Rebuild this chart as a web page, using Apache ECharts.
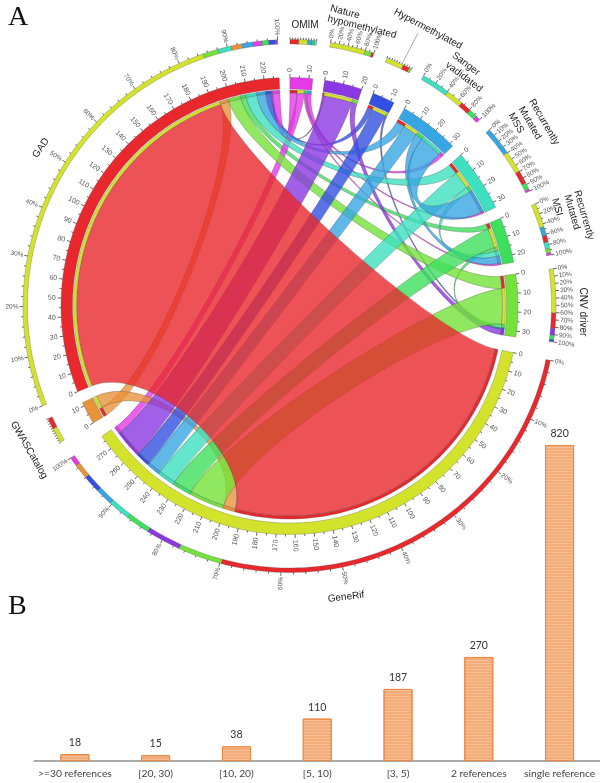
<!DOCTYPE html>
<html><head><meta charset="utf-8">
<style>html,body{margin:0;padding:0;background:#fff}#c{width:600px;height:783px}</style>
<script src="https://cdn.jsdelivr.net/npm/echarts@6/dist/echarts.min.js"></script>
</head><body><div id="c"></div>
<script>
// sector order by link rank
const sectorNames = ['GAD','GeneRif','GWASCatalog','CNV driver','Recurrently Mutated MSI','Recurrently Mutated MSS','Sanger vadidated','Hypermethylated','Nature hypomethylated','OMIM'];
const sectorColors = ['#e8282c','#d3e32c','#e8933a','#74e23a','#3de05c','#3de0bf','#37a6e2','#3350e2','#8b37e2','#e63ae8'];
// overlap counts with every sector, in rank order
const linksGAD     = [0,194,5,7,3,6,5,3,1,4];
const linksGeneRif = [194,0,7,20,11,10,8,8,16,4];
const linksGWAS    = [5,7,0,0,0,0,0,0,0,0];
const linksCNV     = [7,20,0,0,2,0,0,1,3,0];
const linksMSI     = [3,11,0,2,0,3,4,0,0,1];
const linksMSS     = [6,10,0,0,3,0,13,0,0,1];
const linksSanger  = [5,8,0,0,4,13,0,0,0,2];
const linksHyper   = [3,8,0,1,0,0,0,0,0,0];
const linksNature  = [1,16,0,3,0,0,0,0,0,0];
const linksOMIM    = [4,4,0,0,1,1,2,0,0,0];
// drawing order, clockwise from the top
const clockwiseOrder = [9,8,7,6,5,4,3,1,2,0];
const gapAfter = [3,3,3,3,3,3,4,4,3,0];
const ringTickStep = [10,10,10,10,10,10,10,2,10,2];
const ringLabelStep = [0,20,0,20,10,20,10,10,0,10];
// bar chart
const barCategories = ['>=30 references','[20, 30)','[10, 20)','[5, 10)','[3, 5)','2 references','single reference'];
const barValues = [18,15,38,110,187,270,820];

const matrix = [linksGAD,linksGeneRif,linksGWAS,linksCNV,linksMSI,linksMSS,linksSanger,linksHyper,linksNature,linksOMIM];
const DEG = 0.48, START = 0.1, PULL = 0.72;
const R = {rib:213, stripT:3, bandI:217, bandO:228.5, ringI:262, ringO:266.5};
const ribInset = [0,3,0,0,0,0,0,0,0,0]; // GeneRif's links stand a little further from its band
const sum = a => a.reduce((x,y)=>x+y,0);

// layout in degrees
const sectorAngle = {};
let cur = START;
clockwiseOrder.forEach((s,i)=>{ const size = sum(matrix[s]); sectorAngle[s]={a0:cur,a1:cur+size*DEG,size}; cur += size*DEG + gapAfter[i]; });
const slot = {};
matrix.forEach((row,s)=>{ let p = sectorAngle[s].a0; row.forEach((v,t)=>{ if(v){ slot[s+'_'+t]={a0:p,a1:p+v*DEG,r:R.rib-ribInset[s]}; p += v*DEG; } }); });

const xy = (r,a)=>{ const t=a*Math.PI/180; return [r*Math.sin(t), r*Math.cos(t)]; };
const arcPts = (r,a0,a1)=>{ const n=Math.max(2,Math.ceil(Math.abs(a1-a0)/1.2)); const o=[]; for(let i=0;i<=n;i++) o.push(xy(r,a0+(a1-a0)*i/n)); return o; };

const arcMarks = [], tickMarks = [], ribbonMarks = [];
matrix.forEach((row,s)=>{
  const sa = sectorAngle[s];
  arcMarks.push({ri:R.bandI,ro:R.bandO,a0:sa.a0,a1:sa.a1,c:sectorColors[s]});
  row.forEach((v,t)=>{ if(v){ const q=slot[s+'_'+t]; arcMarks.push({ri:q.r,ro:q.r+R.stripT,a0:q.a0,a1:q.a1,c:sectorColors[t]}); } });
  // outer percentage ring, largest first
  let p = sa.a0;
  row.map((v,t)=>({v,t})).filter(o=>o.v).sort((x,y)=>y.v-x.v).forEach(o=>{
    arcMarks.push({ri:R.ringI,ro:R.ringO,a0:p,a1:p+o.v*DEG,c:sectorColors[o.t]}); p += o.v*DEG;
  });
  // band ticks
  for(let u=0;u<=sa.size+0.001;u+=5){
    const a = sa.a0+u*DEG, major = u%10===0;
    tickMarks.push({r0:R.bandO,r1:R.bandO+(major?3.5:2),a});
    if(major) tickMarks.push({text:String(u),r:R.bandO+5.5,a,fs:7});
  }
  // ring ticks
  const idx = clockwiseOrder.indexOf(s);
  const ts = ringTickStep[idx], ls = ringLabelStep[idx];
  for(let q=0;q<=100;q+=ts){
    const a = sa.a0+(sa.a1-sa.a0)*q/100, major = ls? q%ls===0 : false;
    tickMarks.push({r0:R.ringO,r1:R.ringO+(major?3.5:2),a});
    if(major) tickMarks.push({text:q+'%',r:R.ringO+4.5,a,fs:6.5});
  }
});
const pairs=[];
matrix.forEach((row,s)=>row.forEach((v,t)=>{ if(t<s && v) pairs.push({s,t,v}); }));
pairs.sort((x,y)=>x.v-y.v).forEach(p=>{
  ribbonMarks.push({a:slot[p.s+'_'+p.t],b:slot[p.t+'_'+p.s],c:sectorColors[p.s===1&&p.t===0?0:p.s]});
});

function renderArc(params,api){
  const m = arcMarks[params.dataIndex];
  const pts = arcPts(m.ro,m.a0,m.a1).concat(arcPts(m.ri,m.a1,m.a0)).map(q=>api.coord(q));
  return {type:'polygon',shape:{points:pts},style:{fill:m.c,stroke:'rgba(70,70,70,.55)',lineWidth:0.5}};
}
function renderTick(params,api){
  const m = tickMarks[params.dataIndex];
  if(m.text!==undefined){
    const [x,y]=api.coord(xy(m.r,m.a));
    const right = m.a<180;
    const deg = right ? m.a-90 : m.a-270;
    return {type:'text',x,y,rotation:-deg*Math.PI/180,
      style:{text:m.text,fill:'#555',fontSize:m.fs,fontFamily:'Liberation Sans',align:right?'left':'right',verticalAlign:'middle'}};
  }
  const p=api.coord(xy(m.r0,m.a)), q=api.coord(xy(m.r1,m.a));
  return {type:'line',shape:{x1:p[0],y1:p[1],x2:q[0],y2:q[1]},style:{stroke:'#222',lineWidth:0.7}};
}
function renderRibbon(params,api){
  const m = ribbonMarks[params.dataIndex];
  const c = api.coord;
  const A=arcPts(m.a.r,m.a.a0,m.a.a1), B=arcPts(m.b.r,m.b.a0,m.b.a1);
  const fmt=q=>q[0].toFixed(2)+' '+q[1].toFixed(2);
  const curve=(p,q)=>' C'+fmt(c([p[0]*PULL,p[1]*PULL]))+' '+fmt(c([q[0]*PULL,q[1]*PULL]))+' '+fmt(c(q));
  let d='M'+fmt(c(A[0]));
  A.slice(1).forEach(q=>d+=' L'+fmt(c(q)));
  d+=curve(A[A.length-1],B[0]);
  B.slice(1).forEach(q=>d+=' L'+fmt(c(q)));
  d+=curve(B[B.length-1],A[0])+' Z';
  return {type:'path',shape:{pathData:d},style:{fill:m.c,opacity:0.8,stroke:'rgba(60,60,60,.7)',lineWidth:0.5}};
}
const nameLabels = [
 ['OMIM',305,25,0],['Nature',345,12,15],['hypomethylated',362,27,14],['Hypermethylated',428,29,28],
 ['Sanger',466,64,37],['vadidated',464,77,37],
 ['Recurrently',544,122,60],['Mutated',530,123,60],['MSS',516,123,60],
 ['Recurrently',584,215,74],['Mutated',572,212,74],['MSI',557,207,74],
 ['CNV driver',583,312,90],['GeneRif',346,597,-7],['GWASCatalog',29,450,60],['GAD',41,148,-55]
];
const graphics = nameLabels.map(n=>({type:'text',x:n[1],y:n[2],rotation:-n[3]*Math.PI/180,silent:true,
  style:{text:n[0],fill:'#222',fontSize:10,fontFamily:'Liberation Sans',align:'center',verticalAlign:'middle'}}));
graphics.push({type:'text',x:8,y:18,style:{text:'A',fontSize:28,fontFamily:'Liberation Serif',fill:'#111',verticalAlign:'middle'}});
graphics.push({type:'text',x:8,y:607,style:{text:'B',fontSize:28,fontFamily:'Liberation Serif',fill:'#111',verticalAlign:'middle'}});
graphics.push({type:'line',shape:{x1:418,y1:33,x2:403,y2:62},style:{stroke:'#999',lineWidth:0.8}});

const chart = echarts.init(document.getElementById('c'),null,{renderer:'canvas'});
const idxData = a => a.map(()=>[0,0]);
const base = {type:'custom',coordinateSystem:'cartesian2d',xAxisIndex:0,yAxisIndex:0,clip:false,silent:true};
chart.setOption({
  animation:false,
  grid:[{left:9.5,top:6,width:560,height:600},{left:34.5,top:445,width:566,height:316}],
  xAxis:[
    {gridIndex:0,type:'value',min:-280,max:280,show:false},
    {gridIndex:1,type:'category',data:barCategories,axisTick:{show:false},
     axisLine:{lineStyle:{color:'#aaa',width:2}},
     axisLabel:{color:'#444',fontSize:10.3,fontFamily:'Lato',interval:0,margin:8}}
  ],
  yAxis:[
    {gridIndex:0,type:'value',min:-300,max:300,show:false},
    {gridIndex:1,type:'value',min:0,max:820,show:false}
  ],
  series:[
    Object.assign({},base,{name:'links',data:idxData(ribbonMarks),renderItem:renderRibbon}),
    Object.assign({},base,{name:'arcs',data:idxData(arcMarks),renderItem:renderArc}),
    Object.assign({},base,{name:'ticks',data:idxData(tickMarks),renderItem:renderTick}),
    {type:'bar',name:'references',xAxisIndex:1,yAxisIndex:1,data:barValues,barWidth:29,silent:true,
     itemStyle:{color:'#f4ac78',borderColor:'#ec8a45',borderWidth:1,
       decal:{symbol:'rect',dashArrayX:[1,0],dashArrayY:[1,2],color:'rgba(255,255,255,0.22)',symbolSize:1,rotation:0}},
     label:{show:true,position:'top',distance:6,color:'#333',fontSize:10.5,fontFamily:'Lato'}}
  ],
  graphic:graphics
});
</script></body></html>
